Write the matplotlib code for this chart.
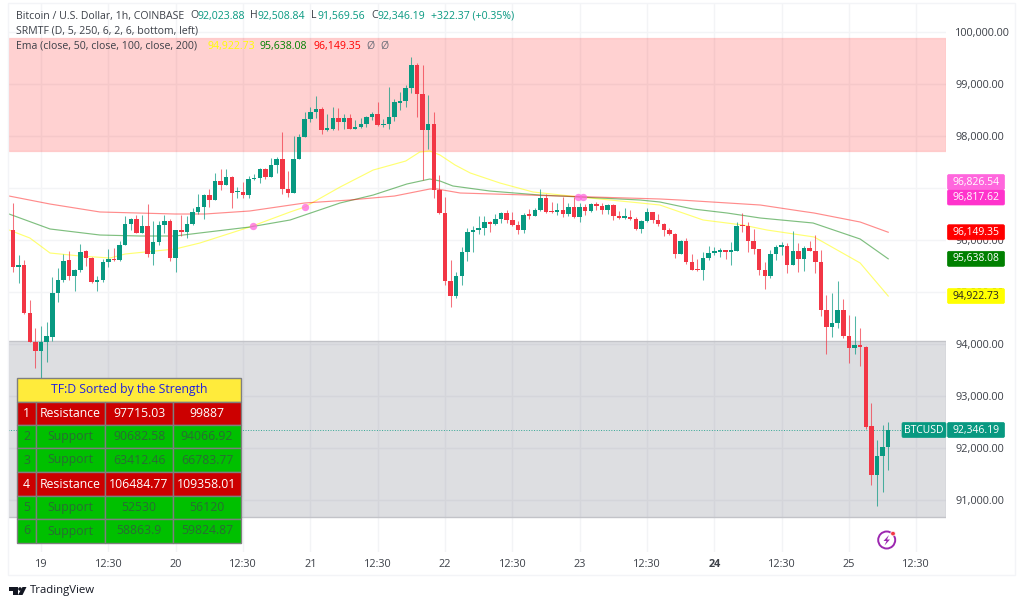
import matplotlib
matplotlib.use("Agg")
import matplotlib.pyplot as plt
from matplotlib.patches import Rectangle, Polygon, Circle, FancyBboxPatch

plt.rcParams['font.family'] = ['Open Sans', 'DejaVu Sans']

# --------------------------
# DATA (hourly candles, prices)
# --------------------------
opens = [96190,95490,95510,94590,94040,93860,94030,94140,94990,95230,
         95610,95300,95420,95780,95660,95190,95240,95580,95640,95610,
         95910,96300,96400,96140,96270,95740,95960,96290,96370,95650,
         96190,96150,96310,96530,96630,96860,96770,97130,97060,97220,
         96920,96920,96870,97170,97190,97370,97210,97440,97560,96980,
         96910,97560,97990,98330,98460,98510,98110,98140,98350,98260,
         98350,98140,98170,98230,98370,98420,98210,98240,98370,98640,
         98670,98930,99370,98800,98120,98230,96960,96510,95220,94920,
         95300,95770,96150,96190,96240,96350,96310,96400,96510,96390,
         96280,96190,96490,96470,96580,96810,96540,96530,96580,96500,
         96630,96440,96640,96560,96700,96650,96570,96670,96470,96430,
         96440,96400,96210,96370,96540,96390,96300,96190,96110,95740,
         95980,95580,95430,95420,95660,95750,95770,95790,95770,95790,
         96270,96260,95980,95820,95430,95300,95730,95870,95890,95510,
         95780,95640,95850,95790,95580,94650,94320,94410,94650,94150,
         93920,93980,93950,92420,91490,91850,92023.88]
highs = [96720,95710,95620,94850,94310,94350,94420,95280,95460,95740,
         95790,95440,95920,95800,95680,95310,95630,95820,95840,95990,
         96460,96430,96480,96480,96690,96370,96370,96480,96400,96190,
         96480,96460,96610,96880,96880,96990,97280,97370,97360,97230,
         97010,97110,97240,97270,97390,97390,97570,97600,98080,97330,
         98000,98030,98460,98560,98770,98550,98420,98550,98540,98420,
         98420,98310,98340,98390,98470,98660,98330,98940,98710,98850,
         98980,99510,99410,99370,98780,98470,97250,96820,95620,95390,
         95870,96230,96260,96460,96460,96370,96500,96540,96580,96530,
         96360,96510,96600,96610,96980,96890,96730,96720,96830,96710,
         96830,96710,96690,96720,96730,96710,96690,96690,96560,96610,
         96570,96450,96390,96610,96540,96500,96330,96240,96130,96000,
         96030,95740,95640,95760,95890,95860,95840,95790,95970,96340,
         96510,96350,96210,95820,95580,95810,95910,95960,95950,96180,
         95950,95890,95980,96100,95810,94940,94980,95210,94860,94560,
         94540,94300,93960,92870,92150,92440,92508.84]
lows = [95390,95170,94580,94040,93530,93350,93660,94050,94810,95200,
        95240,95010,95390,95500,95180,95010,95200,95490,95600,95600,
        95900,96200,96130,96130,95670,95510,95900,96130,95600,95390,
        96080,96030,96290,96500,96400,96640,96760,96970,97060,96620,
        96800,96800,96800,97150,97100,97170,97210,97280,96890,96820,
        96900,97550,97990,98260,98350,98030,98100,98120,98120,98140,
        98130,98130,98150,98180,98300,98200,98170,98140,98280,98500,
        98550,98820,98370,97150,97750,96810,96500,95130,94720,94880,
        95130,95600,95770,96110,96100,96160,96280,96320,96320,96270,
        96120,96140,96400,96460,96550,96510,96510,96490,96450,96470,
        96420,96350,96490,96530,96580,96500,96500,96390,96410,96410,
        96390,96190,96140,96350,96320,96270,96070,96090,95660,95730,
        95540,95420,95400,95240,95620,95720,95680,95640,95510,95780,
        96160,95770,95740,95330,95060,95260,95620,95710,95370,95510,
        95380,95410,95780,95360,94540,93810,94140,94300,94110,93640,
        93810,93580,92370,91290,90890,91150,91569.56]
closes = [95490,95520,94590,94040,93860,94040,94150,94990,95240,95600,
          95300,95420,95770,95660,95190,95240,95580,95640,95610,95900,
          96300,96400,96140,96270,95740,95960,96290,96370,95650,96190,
          96150,96310,96530,96630,96860,96770,97130,97060,97220,96910,
          96940,96870,97170,97190,97370,97210,97440,97560,96980,96910,
          97560,97990,98330,98460,98510,98120,98160,98350,98260,98350,
          98140,98170,98230,98370,98420,98210,98240,98370,98650,98670,
          98930,99370,98800,98120,98230,96960,96510,95220,94920,95300,
          95770,96150,96190,96240,96350,96310,96400,96510,96390,96280,
          96190,96480,96470,96580,96810,96540,96530,96580,96500,96630,
          96440,96640,96560,96700,96650,96580,96670,96470,96430,96440,
          96400,96210,96370,96540,96390,96300,96190,96110,95740,95980,
          95580,95430,95420,95660,95750,95780,95790,95770,95790,96260,
          96260,95980,95820,95420,95300,95730,95870,95890,95510,95780,
          95640,95850,95790,95580,94650,94320,94410,94650,94150,93920,
          93980,93940,92410,91490,91850,92010,92346.19]

ema50_hours = [-0.7,3,6.6,12,17.3,20,28.9,33.3,42.2,49.4,52,58.3,64.2,70,72.5,74.3,76.1,78.8,81.5,86.8,92.7,101,111.8,115.3,123,130.1,134.4,142.8,151,156]
ema50 = [96192,96039,95750,95692,95654,95731,95827,95942,96250,96539,96635,97019,97346,97519,97692,97712,97635,97442,97289,97096,96923,96827,96712,96673,96385,96288,96192,96058,95558,94922.73]
ema100_hours = [-0.7,6.6,15.5,22.6,28.9,33.3,42.2,49.4,58.3,64.2,70.2,74.3,76.1,78.4,85,93.9,101,111.8,115.3,121.2,127.3,133.2,142.6,151,156]
ema100 = [96500,96212,96096,96077,96077,96135,96250,96385,96712,96865,97077,97173,97135,97039,96942,96865,96827,96769,96731,96596,96519,96423,96327,96019,95638.08]
ema200_hours = [-0.7,6.6,15.5,28.9,34.2,42.2,52,60,68,74.3,75.6,79.7,97.5,115.3,118.9,133.2,140.3,142.8,151,156]
ema200 = [96846,96692,96539,96500,96500,96558,96712,96769,96846,96981,96981,96904,96846,96789,96769,96673,96558,96519,96346,96149.35]

cross_hours = [42.8, 52, 100.7, 101.6]
cross_prices = [96270, 96635, 96826.54, 96817.62]

resistance_zone = (97715.03, 99887)
support_zone = (90682.58, 94066.92)

price_ticks = [91000,92000,93000,94000,95000,96000,97000,98000,99000,100000]
# 97,000 sits fully behind the two pink labels, so it gets no text
hidden_price_ticks = [97000]
time_ticks = [5,17,29,41,53,65,77,89,101,113,125,137,149,161]
time_labels = ["19","12:30","20","12:30","21","12:30","22","12:30","23","12:30","24","12:30","25","12:30"]

table_title = "TF:D Sorted by the Strength"
table_rows = [
    ["1", "Resistance", "97715.03", "99887"],
    ["2", "Support", "90682.58", "94066.92"],
    ["3", "Support", "63412.46", "66783.77"],
    ["4", "Resistance", "106484.77", "109358.01"],
    ["5", "Support", "52530", "56120"],
    ["6", "Support", "58863.9", "59824.87"],
]

GREEN = "#089981"
RED = "#F23645"
GRID = "#F3F4F6"
TEXT = "#3c4048"

# --------------------------
# CHART PANE
# --------------------------
fig = plt.figure(figsize=(10.24, 6.07), dpi=100, facecolor="white")
ax = fig.add_axes([8/1024, 1-552/607, 938/1024, 549/607])
ax.set_xlim(-0.89, 166.3)
ax.set_ylim(90000, 100558)
for s in ax.spines.values():
    s.set_visible(False)

ax.set_yticks(price_ticks)
ax.set_yticklabels(["" if p in hidden_price_ticks else f"{p:,.2f}" for p in price_ticks])
ax.yaxis.tick_right()
ax.set_xticks(time_ticks)
ax.set_xticklabels(time_labels)
ax.tick_params(axis="y", length=0, pad=6.5, labelsize=7.8, labelcolor=TEXT)
ax.tick_params(axis="x", length=0, pad=5, labelsize=7.8, labelcolor=TEXT)
ax.get_xticklabels()[10].set_fontweight("bold")
ax.grid(True, color=GRID, lw=1)
ax.set_axisbelow(True)

ax.axhspan(*resistance_zone, facecolor=(1, 0, 0, 0.18), edgecolor=(1, 0, 0, 0.12), lw=1, zorder=1)
ax.axhspan(*support_zone, facecolor=(0.47, 0.485, 0.54, 0.25), edgecolor="#C2C3C8", lw=1, zorder=1)

ax.plot(ema50_hours, ema50, color="#FFFF00", alpha=0.55, lw=0.85, zorder=2)
ax.plot(ema100_hours, ema100, color="#008000", alpha=0.5, lw=0.85, zorder=2)
ax.plot(ema200_hours, ema200, color="#FF0000", alpha=0.45, lw=0.85, zorder=2)

hours = list(range(len(closes)))
colors = [GREEN if c >= o else RED for o, c in zip(opens, closes)]
ax.vlines(hours, lows, highs, colors=colors, lw=0.75, alpha=0.7, zorder=3)
ax.bar(hours, [max(abs(c - o), 30) for o, c in zip(opens, closes)],
       bottom=[min(o, c) for o, c in zip(opens, closes)],
       width=0.8, color=colors, lw=0, zorder=4)

ax.scatter(cross_hours, cross_prices, s=28, color="#FF66DD", alpha=0.75, lw=0, zorder=5)
ax.axhline(closes[-1], xmin=0, xmax=0.952, color=GREEN, ls=":", lw=0.7, alpha=0.8, zorder=3)

# --------------------------
# OVERLAY IN PIXELS (labels, table, logos)
# --------------------------
ov = fig.add_axes([0, 0, 1, 1], zorder=10)
ov.set_xlim(0, 1024)
ov.set_ylim(607, 0)
ov.axis("off")
ov.patch.set_alpha(0)

ov.add_patch(Rectangle((8, 3), 1007, 572, fill=False, edgecolor="#F3F4F7", lw=1))


def price_y(price):
    return 607 - ax.transData.transform((0, price))[1]


# header lines
def head(x, y, text, color=TEXT):
    ov.text(x, y, text, color=color, fontsize=7.6, va="center", ha="left")


head(16, 16, "Bitcoin / U.S. Dollar, 1h, COINBASE")
head(190, 16, "O")
head(197, 16, "92,023.88", GREEN)
head(250, 16, "H")
head(258, 16, "92,508.84", GREEN)
head(311, 16, "L")
head(317, 16, "91,569.56", GREEN)
head(371, 16, "C")
head(378, 16, "92,346.19", GREEN)
head(431, 16, "+322.37 (+0.35%)", GREEN)
head(16, 31, "SRMTF (D, 5, 250, 6, 2, 6, bottom, left)")
head(16, 46, "Ema (close, 50, close, 100, close, 200)")
head(207, 46, "94,922.73", "#FFFF00")
head(260, 46, "95,638.08", "#008000")
head(313, 46, "96,149.35", "#FF0000")
head(366, 46, "Ø", "#6a6d78")
head(380, 46, "Ø", "#6a6d78")


# price scale labels
def price_label(price, bg, fg, shift=0):
    y = price_y(price) + shift
    ov.add_patch(FancyBboxPatch((947.5, y - 7.5), 57, 15, boxstyle="round,pad=0,rounding_size=1.5",
                                facecolor=bg, edgecolor=bg, lw=0.5))
    ov.text(976, y, f"{price:,.2f}", color=fg, fontsize=7.5, va="center", ha="center")


price_label(cross_prices[2], "#FF66DD", "white", shift=-15)
price_label(cross_prices[3], "#FF33CC", "white")
price_label(ema200[-1], "#FF0000", "white")
price_label(ema100[-1], "#008000", "white")
price_label(ema50[-1], "#FFFF00", "#222222")
price_label(closes[-1], GREEN, "white")
y_close = price_y(closes[-1])
ov.add_patch(FancyBboxPatch((902, y_close - 7.5), 44, 15, boxstyle="round,pad=0,rounding_size=1.5",
                            facecolor=GREEN, edgecolor=GREEN, lw=0.5))
ov.text(923.5, y_close, "BTCUSD", color="white", fontsize=7.5, va="center", ha="center")

# strength table
col_edges = [17, 36, 105, 173, 241]
row_edges = [402, 425, 448, 472, 496, 519, 543]
BORDER = "#7f7f7f"
ov.add_patch(Rectangle((17, 378), 224, 24, facecolor="#FFEB3B", edgecolor=BORDER, lw=1))
ov.text(129, 390, table_title, color="#2222DD", fontsize=8.8, va="center", ha="center")
for r, row in enumerate(table_rows):
    is_res = row[1] == "Resistance"
    bg = "#CC0000" if is_res else "#00C000"
    fg = "white" if is_res else "#2A6B35"
    for c, cell in enumerate(row):
        ov.add_patch(Rectangle((col_edges[c], row_edges[r]), col_edges[c+1] - col_edges[c],
                               row_edges[r+1] - row_edges[r], facecolor=bg, edgecolor=BORDER, lw=1))
        ov.text((col_edges[c] + col_edges[c+1]) / 2, (row_edges[r] + row_edges[r+1]) / 2, cell,
                color=fg, fontsize=8.8, va="center", ha="center")

# lightning icon
ov.add_patch(Circle((886.7, 540), 8.5, fill=False, edgecolor="#9C27B0", lw=1.4))
ov.add_patch(Polygon([(889, 535), (883.5, 541), (886.5, 541), (884.5, 545.5), (890, 539.5), (887, 539.5)],
                     facecolor="#9C27B0", edgecolor="none"))
ov.add_patch(Circle((893, 533.6), 2.3, facecolor="#F23645", edgecolor="white", lw=0.5))

# TradingView logo
ov.add_patch(Polygon([(9, 587), (17.5, 587), (17.5, 595), (13, 595), (13, 591), (9, 591)],
                     facecolor="#131722", edgecolor="none"))
ov.add_patch(Circle((20, 589), 1.8, facecolor="#131722", edgecolor="none"))
ov.add_patch(Polygon([(22.5, 587), (26.5, 587), (22.5, 595), (18, 595)], facecolor="#131722", edgecolor="none"))
ov.text(29.5, 591, "TradingView", color="#131722", fontsize=8.2, va="center", ha="left")

fig.savefig("out.png", dpi=100)
